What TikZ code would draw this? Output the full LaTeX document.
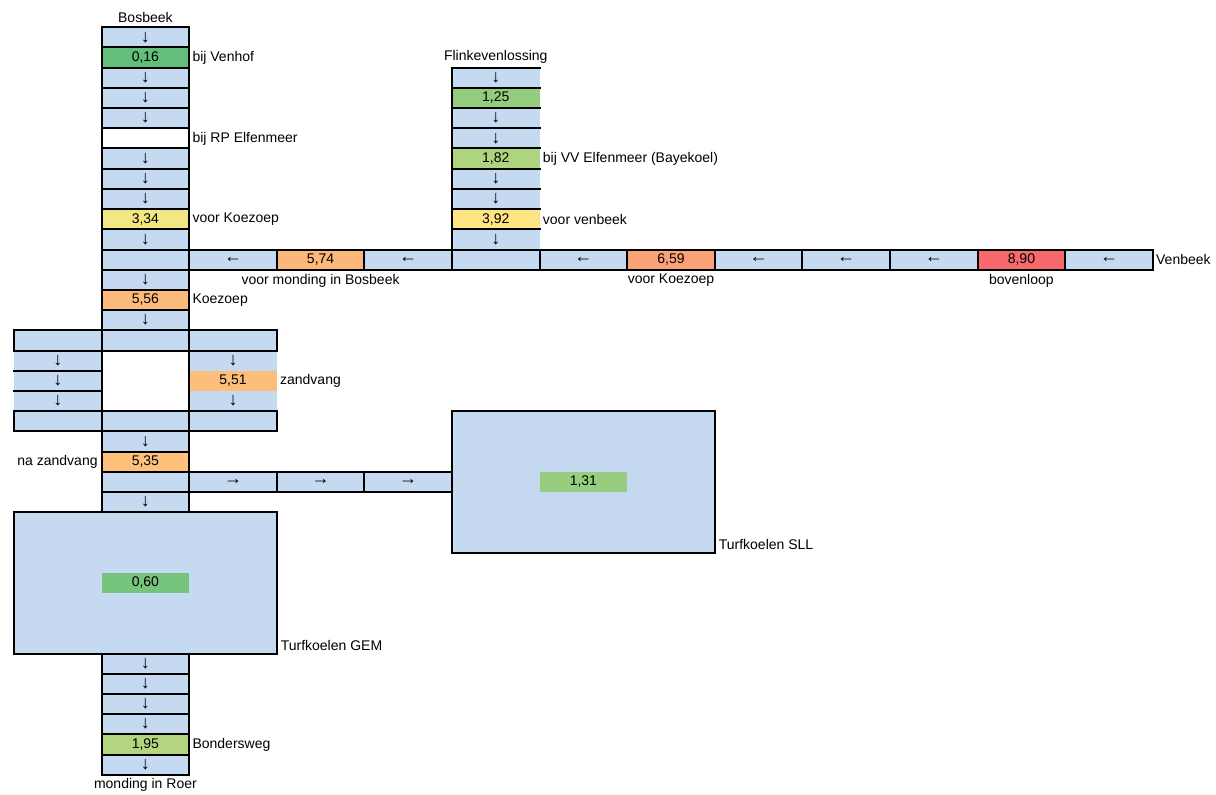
\documentclass[tikz,border=0pt]{standalone}
\usepackage{fontspec}
\setmainfont{Liberation Sans}
\definecolor{cb}{HTML}{C5D9F1}
\definecolor{v016}{HTML}{63BE7B}
\definecolor{v060}{HTML}{77C47C}
\definecolor{v125}{HTML}{94CC7E}
\definecolor{v131}{HTML}{97CD7E}
\definecolor{v182}{HTML}{AED47F}
\definecolor{v195}{HTML}{B4D580}
\definecolor{v334}{HTML}{F2E783}
\definecolor{v392}{HTML}{FFE483}
\definecolor{v535}{HTML}{FDC17C}
\definecolor{v551}{HTML}{FDBD7B}
\definecolor{v556}{HTML}{FDBB7B}
\definecolor{v574}{HTML}{FCB77A}
\definecolor{v659}{HTML}{FBA276}
\definecolor{v890}{HTML}{F8696B}
\newcommand\txtfont{\fontsize{10.5}{12}\selectfont}
\newcommand\ardn{{\fontsize{13.5}{14}\selectfont ↓}}
\newcommand\arlt{{\fontsize{13.5}{14}\selectfont ←}}
\newcommand\arrt{{\fontsize{13.5}{14}\selectfont →}}
\newcommand\mycell[5]{\node[cellbox,fill=#4] (#1) at ({14+87.6*(#2+0.5)},{27.3+20.2*(#3+0.5)}) {#5};}
\newcommand\myfill[5]{\node[fillbox,fill=#4] (#1) at ({14+87.6*(#2+0.5)},{27.3+20.2*(#3+0.5)}) {#5};}
\tikzset{
  cellbox/.style={draw=black, line width=1.5pt, minimum width=65.7pt, minimum height=15.15pt, inner sep=0pt, outer sep=0pt, font=\txtfont},
  fillbox/.style={minimum width=65.7pt, minimum height=15.15pt, inner sep=0pt, outer sep=0pt, font=\txtfont},
  bigbox/.style={draw=black, fill=cb, line width=1.5pt, minimum width=197.1pt, minimum height=106.05pt, inner sep=0pt, outer sep=0pt, anchor=north west},
  edge/.style={draw=black, line width=1.5pt, line cap=rect},
  lbl/.style={font=\txtfont, inner sep=0pt, outer sep=0pt},
}
\begin{document}
\begin{tikzpicture}[x=0.75pt,y=-0.75pt]
\useasboundingbox (0,0) rectangle (1216,795);
% reservoirs
\node[bigbox] (gem) at (14,512.1) {};
\node[bigbox] (sll) at (452,411.1) {};
\myfill{g060}{1}{27}{v060}{0,60}
\myfill{s131}{6}{22}{v131}{1,31}
% Flinkevenlossing column (no right border)
\myfill{f2}{5}{2}{cb}{\ardn}
\myfill{f3}{5}{3}{v125}{1,25}
\myfill{f4}{5}{4}{cb}{\ardn}
\myfill{f5}{5}{5}{cb}{\ardn}
\myfill{f6}{5}{6}{v182}{1,82}
\myfill{f7}{5}{7}{cb}{\ardn}
\myfill{f8}{5}{8}{cb}{\ardn}
\myfill{f9}{5}{9}{v392}{3,92}
\myfill{f10}{5}{10}{cb}{\ardn}
% zandvang side columns
\myfill{a16}{0}{16}{cb}{\ardn}
\myfill{a17}{0}{17}{cb}{\ardn}
\myfill{a18}{0}{18}{cb}{\ardn}
\myfill{c16}{2}{16}{cb}{\ardn}
\myfill{c17}{2}{17}{v551}{5,51}
\myfill{c18}{2}{18}{cb}{\ardn}
% Bosbeek column
\mycell{b0}{1}{0}{cb}{\ardn}
\mycell{b1}{1}{1}{v016}{0,16}
\mycell{b2}{1}{2}{cb}{\ardn}
\mycell{b3}{1}{3}{cb}{\ardn}
\mycell{b4}{1}{4}{cb}{\ardn}
\mycell{b5}{1}{5}{white}{}
\mycell{b6}{1}{6}{cb}{\ardn}
\mycell{b7}{1}{7}{cb}{\ardn}
\mycell{b8}{1}{8}{cb}{\ardn}
\mycell{b9}{1}{9}{v334}{3,34}
\mycell{b10}{1}{10}{cb}{\ardn}
\mycell{b11}{1}{11}{cb}{}
\mycell{b12}{1}{12}{cb}{\ardn}
\mycell{b13}{1}{13}{v556}{5,56}
\mycell{b14}{1}{14}{cb}{\ardn}
\mycell{a15}{0}{15}{cb}{}
\mycell{b15}{1}{15}{cb}{}
\mycell{c15}{2}{15}{cb}{}
\node[draw=black, fill=white, line width=1.5pt, minimum width=65.7pt, minimum height=45.45pt, inner sep=0pt, outer sep=0pt] (mid) at ({14+87.6*1.5},{27.3+20.2*17.5}) {};
\mycell{a19}{0}{19}{cb}{}
\mycell{b19}{1}{19}{cb}{}
\mycell{c19}{2}{19}{cb}{}
\mycell{b20}{1}{20}{cb}{\ardn}
\mycell{b21}{1}{21}{v535}{5,35}
\mycell{b22}{1}{22}{cb}{}
\mycell{c22}{2}{22}{cb}{\arrt}
\mycell{d22}{3}{22}{cb}{\arrt}
\mycell{e22}{4}{22}{cb}{\arrt}
\mycell{b23}{1}{23}{cb}{\ardn}
\mycell{b31}{1}{31}{cb}{\ardn}
\mycell{b32}{1}{32}{cb}{\ardn}
\mycell{b33}{1}{33}{cb}{\ardn}
\mycell{b34}{1}{34}{cb}{\ardn}
\mycell{b35}{1}{35}{v195}{1,95}
\mycell{b36}{1}{36}{cb}{\ardn}
% Venbeek row
\mycell{v2}{2}{11}{cb}{\arlt}
\mycell{v3}{3}{11}{v574}{5,74}
\mycell{v4}{4}{11}{cb}{\arlt}
\mycell{v5}{5}{11}{cb}{}
\mycell{v6}{6}{11}{cb}{\arlt}
\mycell{v7}{7}{11}{v659}{6,59}
\mycell{v8}{8}{11}{cb}{\arlt}
\mycell{v9}{9}{11}{cb}{\arlt}
\mycell{v10}{10}{11}{cb}{\arlt}
\mycell{v11}{11}{11}{v890}{8,90}
\mycell{v12}{12}{11}{cb}{\arlt}
% borders of the fill-only cells
\draw[edge] (f2.north west) -- (v5.north west);
\foreach \n in {f2,f3,f4,f5,f6,f7,f8,f9,f10}{\draw[edge] (\n.north west) -- (\n.north east);}
\foreach \n in {a16,a17,a18}{\draw[edge] (\n.north west) -- (\n.north east);}
% labels
\node[lbl] (tbos) at ({14+87.6*1.5},17) {Bosbeek};
\node[lbl] (tflink) at ({14+87.6*5.5},57) {Flinkevenlossing};
\node[lbl, anchor=west] at ([xshift=2.5pt]b1.east) {bij Venhof};
\node[lbl, anchor=west] at ([xshift=2.5pt]b5.east) {bij RP Elfenmeer};
\node[lbl, anchor=west] at ([xshift=2.5pt]b9.east) {voor Koezoep};
\node[lbl, anchor=west] at ([xshift=2.5pt]b13.east) {Koezoep};
\node[lbl, anchor=west] at ([xshift=2.5pt]f6.east) {bij VV Elfenmeer (Bayekoel)};
\node[lbl, anchor=west] at ([xshift=2.5pt]f9.east) {voor venbeek};
\node[lbl] at ([yshift=-15.6pt]v3.center) {voor monding in Bosbeek};
\node[lbl] at ([yshift=-15.6pt]v7.center) {voor Koezoep};
\node[lbl] at ([yshift=-15.6pt]v11.center) {bovenloop};
\node[lbl, anchor=west] at ([xshift=2.5pt]v12.east) {Venbeek};
\node[lbl, anchor=west] at ([xshift=2.5pt]c17.east) {zandvang};
\node[lbl, anchor=east] at ([xshift=-3pt]b21.west) {na zandvang};
\node[lbl, anchor=base west] at ([xshift=3pt,yshift=2pt]sll.south east) {Turfkoelen SLL};
\node[lbl, anchor=base west] at ([xshift=3pt,yshift=2.5pt]gem.south east) {Turfkoelen GEM};
\node[lbl, anchor=west] at ([xshift=2.5pt]b35.east) {Bondersweg};
\node[lbl] (troer) at ({14+87.6*1.5},785) {monding in Roer};
\end{tikzpicture}
\end{document}
